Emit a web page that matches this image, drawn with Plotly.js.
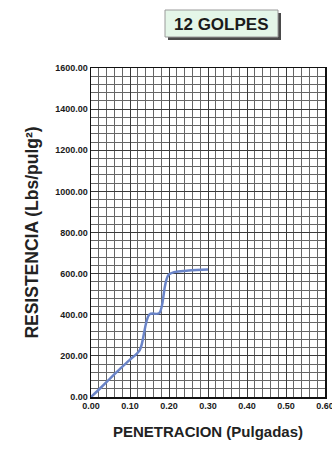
<!DOCTYPE html>
<html>
<head>
<meta charset="utf-8">
<script src="https://cdn.plot.ly/plotly-3.0.1.min.js"></script>
<style>
  html, body { margin: 0; padding: 0; background: #ffffff; }
  #chart { width: 332px; height: 449px; }
</style>
</head>
<body>
<div id="chart"></div>
<script>
// CBR penetration test, 12 blows per layer
const penetracion = [0.000, 0.025, 0.050, 0.075, 0.100, 0.125, 0.150, 0.175, 0.200, 0.250, 0.300];
const resistencia = [0, 45, 92, 138, 182, 228, 402, 408, 596, 615, 620];
const ticksX = [0, 0.1, 0.2, 0.3, 0.4, 0.5, 0.6];
const tituloGrafico = '12 GOLPES';
const tituloX = 'PENETRACION (Pulgadas)';
const tituloY = 'RESISTENCIA (Lbs/pulg²)';

const W = 332, H = 449;
const M = { l: 91, r: 7, t: 68, b: 52 };
const plotW = W - M.l - M.r, plotH = H - M.t - M.b;
// pixel -> paper helpers for the framed heading
const px = v => (v - M.l) / plotW;
const py = v => (H - M.b - v) / plotH;

const font = 'Liberation Sans, Arial, sans-serif';

const trace = {
  x: penetracion,
  y: resistencia,
  type: 'scatter',
  mode: 'lines',
  line: { color: '#6a84c8', width: 2.5, shape: 'spline', smoothing: 0.9 },
  hoverinfo: 'x+y'
};

const axisCommon = {
  showline: true,
  linecolor: '#111',
  linewidth: 1.5,
  mirror: true,
  showgrid: true,
  gridcolor: '#3a3a3a',
  gridwidth: 1,
  zeroline: false,
  ticks: '',
  tickformat: '.2f',
  ticklabeloverflow: 'allow',
  tickfont: { family: font, size: 9, color: '#1a1a1a', weight: 'bold' }
};

const layout = {
  width: W,
  height: H,
  margin: M,
  paper_bgcolor: '#ffffff',
  plot_bgcolor: '#ffffff',
  showlegend: false,
  xaxis: Object.assign({}, axisCommon, {
    range: [0, 0.6],
    tickmode: 'array',
    tickvals: ticksX,
    minor: { dtick: 0.02, tick0: 0, showgrid: true, gridcolor: '#666', gridwidth: 1 },
    title: { text: tituloX, font: { family: font, size: 15, color: '#222', weight: 'bold' }, standoff: 16 }
  }),
  yaxis: Object.assign({}, axisCommon, {
    range: [0, 1600],
    dtick: 200,
    minor: { dtick: 40, showgrid: true, gridcolor: '#666', gridwidth: 1 },
    title: { text: tituloY, font: { family: font, size: 17.5, color: '#222', weight: 'bold' }, standoff: 12 }
  }),
  shapes: [
    // drop shadow of the heading frame
    { type: 'rect', xref: 'paper', yref: 'paper', x0: px(168), x1: px(281), y0: py(40), y1: py(13),
      fillcolor: '#4a4a4a', line: { width: 0 }, layer: 'above' },
    // heading frame
    { type: 'rect', xref: 'paper', yref: 'paper', x0: px(165), x1: px(278), y0: py(37), y1: py(10),
      fillcolor: '#e4f6e8', line: { color: '#9a9a9a', width: 1 }, layer: 'above' }
  ],
  annotations: [
    { text: tituloGrafico, xref: 'paper', yref: 'paper', x: px(221), y: py(24),
      xanchor: 'center', yanchor: 'middle', showarrow: false,
      font: { family: font, size: 17, color: '#1a1a1a', weight: 'bold' } }
  ]
};

Plotly.newPlot('chart', [trace], layout, { staticPlot: true, displayModeBar: false });
</script>
</body>
</html>
